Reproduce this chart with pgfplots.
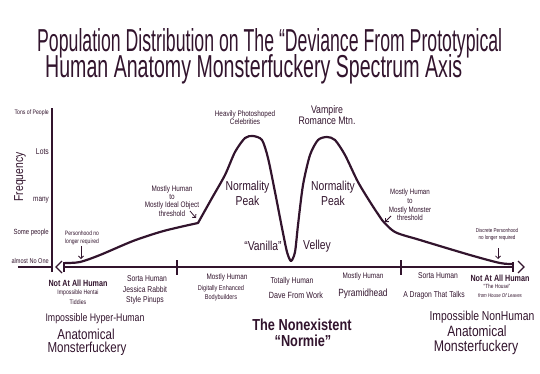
\documentclass[border=0pt]{standalone}
\usepackage{pgfplots}
\pgfplotsset{compat=1.18}
\usepackage{fontspec}
\setmainfont{Liberation Sans}[FakeStretch=0.8]
\usetikzlibrary{arrows.meta}
\definecolor{ink}{RGB}{50,20,45}
\newcommand{\fs}[2]{\fontsize{#1}{#2}\selectfont}

\begin{document}
\begin{tikzpicture}
\begin{axis}[
  width=470bp, height=157bp, scale only axis,
  xmin=52, xmax=522, ymin=0, ymax=157,
  clip=false,
  axis lines=left, axis line style={draw=none},
  xtick=\empty,
  ytick={6,34,67,115,154},
  yticklabels={{\fs{7}{7}almost No One},{\fs{7.5}{7.5}Some people},{\fs{8}{8}many},{\fs{8.5}{8.5}Lots},{\fs{6.5}{6.5}Tons of People}},
  major tick length=0pt,
  yticklabel style={anchor=east, inner sep=0pt, xshift=-3bp, text=ink},
]
% bounding box = full picture
\path (axis cs:0,-106) rectangle (axis cs:540,267);

% axes
\draw[ink, line width=1.8pt] (axis cs:52,-5) -- (axis cs:52,159);
\draw[ink, line width=1.6pt] (axis cs:18,0) -- (axis cs:52,0);
\draw[ink, line width=1.6pt] (axis cs:64,0) -- (axis cs:514,0);
\draw[ink, line width=1.3pt] (axis cs:62,6) -- (axis cs:56,0) -- (axis cs:62,-6);
\draw[ink, line width=1.3pt] (axis cs:518,6) -- (axis cs:524,0) -- (axis cs:518,-6);
\draw[ink, line width=1.3pt] (axis cs:64,5) -- (axis cs:64,-5);
\draw[ink, line width=1.3pt] (axis cs:177,7) -- (axis cs:177,-8);
\draw[ink, line width=1.3pt] (axis cs:401,7) -- (axis cs:401,-8);
\draw[ink, line width=1.3pt] (axis cs:513,5) -- (axis cs:513,-5);

% distribution curve
\addplot[ink, line width=2.2pt, smooth, tension=0.5, line cap=round, line join=round]
 coordinates {(65,4)(80,5)(100,12)(133,26)(160,35)(180,40)(198,44)};
\addplot[ink, line width=2.2pt, smooth, tension=0.45, line cap=round, line join=round]
 coordinates {(198,44)(212,69)(225,92)(235,115)(245,129)(253,131)(262,127)(268,109)(275,75)(282,39)(287,15)(291,6)(295,15)(298,42)(303,82)(310,112)(318,127)(327,130)(335,127)(345,112)(358,85)(372,62)(382,47)};
\addplot[ink, line width=2.2pt, smooth, tension=0.5, line cap=round, line join=round]
 coordinates {(382,47)(395,35)(420,27)(470,12)(500,4)(513,3)};

% title (two lines in one node)
\node[anchor=base west, inner sep=0pt, text=ink] at (axis cs:37,190)
 {\rlap{\raisebox{26bp}{\resizebox{465bp}{23bp}{Population Distribution on The ``Deviance From Prototypical}}}\hspace*{8bp}\resizebox{417bp}{23bp}{Human Anatomy Monsterfuckery Spectrum Axis}};

% y label
\node[rotate=90, text=ink, inner sep=0pt, font=\fs{13}{13}] at (axis cs:20,90) {Frequency};

% annotations
\node[align=center, text=ink, inner sep=0pt, font=\fs{6.3}{7.5}] at (axis cs:82,29) {Personhood no\\longer required};
\draw[ink, line width=0.8pt, -{Straight Barb[length=2.5pt]}] (axis cs:81,21) -- (axis cs:81,8);
\node[align=center, text=ink, inner sep=0pt, font=\fs{8}{8.3}] at (axis cs:172,66) {Mostly Human\\to\\Mostly Ideal Object\\threshold};
\draw[ink, line width=0.8pt, -{Straight Barb[length=2.5pt]}] (axis cs:190,56) -- (axis cs:196,49);
\node[align=center, text=ink, inner sep=0pt, font=\fs{8}{8.5}] at (axis cs:245,149.5) {Heavily Photoshoped\\Celebrities};
\node[align=center, text=ink, inner sep=0pt, font=\fs{11}{11}] at (axis cs:327,152) {Vampire\\Romance Mtn.};
\node[align=center, text=ink, inner sep=0pt, font=\fs{13}{15}] at (axis cs:247.5,73.5) {Normality\\Peak};
\node[align=center, text=ink, inner sep=0pt, font=\fs{13}{15}] at (axis cs:333,74) {Normality\\Peak};
\node[text=ink, inner sep=0pt, font=\fs{13}{13}] at (axis cs:263,21) {``Vanilla''};
\node[text=ink, inner sep=0pt, font=\fs{13}{13}] at (axis cs:317,21) {Velley};
\node[align=center, text=ink, inner sep=0pt, font=\fs{7.8}{8.7}] at (axis cs:410,62) {Mostly Human\\to\\Mostly Monster\\threshold};
\draw[ink, line width=0.8pt, -{Straight Barb[length=2.5pt]}] (axis cs:391,51) -- (axis cs:385,45);
\node[align=center, text=ink, inner sep=0pt, font=\fs{5.7}{7}] at (axis cs:497,32) {Discrete Personhood\\no longer required};
\draw[ink, line width=0.8pt, -{Straight Barb[length=2.5pt]}] (axis cs:498,19) -- (axis cs:498,8);

% x category labels
\node[text=ink, inner sep=0pt, font=\fs{9}{9}\bfseries] at (axis cs:78,-16) {Not At All Human};
\node[align=center, text=ink, inner sep=0pt, font=\fs{6.5}{10}] at (axis cs:78,-30) {Impossible Hentai\\Tiddies};
\node[text=ink, inner sep=0pt, font=\fs{8.5}{8.5}] at (axis cs:147,-12) {Sorta Human};
\node[align=center, text=ink, inner sep=0pt, font=\fs{8.5}{9.5}] at (axis cs:145,-28.5) {Jessica Rabbit\\Style Pinups};
\node[text=ink, inner sep=0pt, font=\fs{8}{8}] at (axis cs:227,-10) {Mostly Human};
\node[align=center, text=ink, inner sep=0pt, font=\fs{7}{9}] at (axis cs:221,-26.5) {Digitally Enhanced\\Bodybuilders};
\node[text=ink, inner sep=0pt, font=\fs{8.5}{8.5}] at (axis cs:292,-14) {Totally Human};
\node[text=ink, inner sep=0pt, font=\fs{9}{9}] at (axis cs:296,-28) {Dave From Work};
\node[text=ink, inner sep=0pt, font=\fs{8}{8}] at (axis cs:363,-9) {Mostly Human};
\node[text=ink, inner sep=0pt, font=\fs{10.5}{10.5}] at (axis cs:363,-27) {Pyramidhead};
\node[text=ink, inner sep=0pt, font=\fs{8.5}{8.5}] at (axis cs:438,-9) {Sorta Human};
\node[text=ink, inner sep=0pt, font=\fs{8.5}{8.5}] at (axis cs:434,-28) {A Dragon That Talks};
\node[text=ink, inner sep=0pt, font=\fs{9}{9}\bfseries] at (axis cs:500,-11) {Not At All Human};
\node[text=ink, inner sep=0pt, font=\fs{6}{6}] at (axis cs:497,-19) {``The House''};
\node[text=ink, inner sep=0pt, font=\fs{5.5}{5.5}\itshape] at (axis cs:500,-29) {from House Of Leaves};

% big bottom labels
\node[text=ink, inner sep=0pt, font=\fs{11}{11}] at (axis cs:95,-52) {Impossible Hyper-Human};
\node[text=ink, inner sep=0pt, font=\fs{14.5}{14.5}] at (axis cs:86,-67) {Anatomical};
\node[text=ink, inner sep=0pt, font=\fs{14.5}{14.5}] at (axis cs:87,-82) {Monsterfuckery};
\node[text=ink, inner sep=0pt, font=\fs{16}{16}\bfseries] at (axis cs:302,-58) {The Nonexistent};
\node[text=ink, inner sep=0pt, font=\fs{16}{16}\bfseries] at (axis cs:303,-74) {``Normie''};
\node[text=ink, inner sep=0pt, font=\fs{13}{13}] at (axis cs:482,-50) {Impossible NonHuman};
\node[text=ink, inner sep=0pt, font=\fs{15}{15}] at (axis cs:477,-64) {Anatomical};
\node[text=ink, inner sep=0pt, font=\fs{15.5}{15.5}] at (axis cs:476,-80) {Monsterfuckery};
\end{axis}
\end{tikzpicture}
\end{document}
